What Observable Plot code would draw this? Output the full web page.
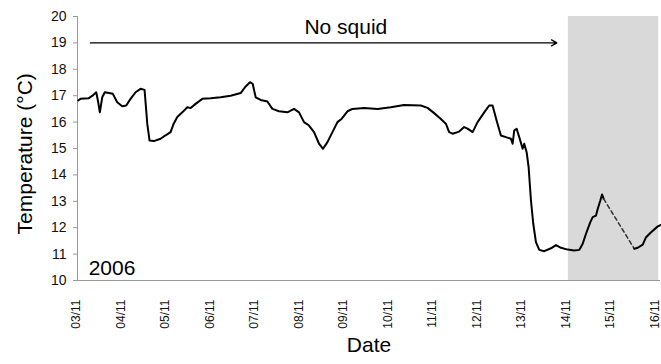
<!DOCTYPE html>
<html><head><meta charset="utf-8">
<script src="https://cdn.jsdelivr.net/npm/d3@7"></script>
<script src="https://cdn.jsdelivr.net/npm/@observablehq/plot@0.6"></script>
<style>body{margin:0;background:#fff;}</style>
</head><body><div id="chart"></div>
<script>
// days since 03/11 (2006) and water temperature (°C)
const days = [0.016,0.067,0.247,0.337,0.421,0.466,0.502,0.556,0.614,0.704,0.794,0.893,1.005,1.095,1.192,1.305,1.417,1.507,1.568,1.619,1.716,1.867,1.979,2.092,2.159,2.242,2.355,2.467,2.542,2.654,2.805,2.991,3.216,3.441,3.666,3.779,3.875,3.936,4.004,4.116,4.267,4.379,4.528,4.717,4.865,4.978,5.09,5.202,5.315,5.427,5.517,5.616,5.729,5.841,5.938,6.066,6.179,6.44,6.741,7.04,7.339,7.715,7.865,8.014,8.165,8.277,8.351,8.428,8.576,8.689,8.765,8.878,8.99,9.139,9.251,9.327,9.417,9.514,9.627,9.739,9.777,9.813,9.867,9.926,10.002,10.038,10.092,10.137,10.189,10.241,10.301,10.376,10.488,10.639,10.751,10.864,11.014,11.163,11.276,11.352,11.426,11.523,11.577,11.651,11.689,11.748,11.786,11.824];
const temps = [16.82,16.88,16.9,17.0,17.13,16.75,16.37,16.94,17.13,17.1,17.07,16.75,16.6,16.63,16.88,17.13,17.26,17.22,15.93,15.3,15.28,15.37,15.5,15.62,15.93,16.19,16.37,16.56,16.53,16.69,16.88,16.9,16.94,17.0,17.1,17.35,17.51,17.45,16.94,16.84,16.78,16.5,16.41,16.37,16.5,16.37,16.0,15.87,15.62,15.18,14.99,15.24,15.62,16.0,16.13,16.41,16.5,16.53,16.5,16.56,16.65,16.63,16.54,16.34,16.12,15.94,15.62,15.56,15.64,15.81,15.75,15.62,16.0,16.37,16.63,16.63,16.06,15.49,15.43,15.37,15.18,15.68,15.75,15.43,14.99,15.18,14.86,14.29,13.03,12.15,11.45,11.16,11.11,11.22,11.34,11.24,11.17,11.14,11.16,11.39,11.77,12.21,12.4,12.46,12.71,13.03,13.26,13.09];
// gap in the record (dashed)
const gapDays = [11.824, 12.512];
const gapTemps = [13.09, 11.2];
// record after the gap
const tailDays = [12.512,12.589,12.701,12.776,12.888,13.039,13.113];
const tailTemps = [11.2,11.24,11.36,11.64,11.83,12.05,12.11];
// squid period (shaded)
const shadeStart = 11.03, shadeEnd = 13.06;
// "No squid" arrow
const arrowFrom = 0.29, arrowTo = 10.77, arrowTemp = 19;
const dateLabels = ["03/11","04/11","05/11","06/11","07/11","08/11","09/11","10/11","11/11","12/11","13/11","14/11","15/11","16/11"];
const yTicks = [10,11,12,13,14,15,16,17,18,19,20];

const main = days.map((d, i) => ({d, t: temps[i]}));
const gap = gapDays.map((d, i) => ({d, t: gapTemps[i]}));
const tail = tailDays.map((d, i) => ({d, t: tailTemps[i]}));
const xTicks = dateLabels.map((_, i) => i);

const chart = Plot.plot({
  width: 661, height: 364,
  marginLeft: 77, marginRight: 1, marginTop: 16, marginBottom: 84,
  x: {domain: [0, 13.1]},
  y: {domain: [10, 20]},
  style: {fontFamily: "'Liberation Sans', Arial, sans-serif", background: "#fff", color: "#111"},
  marks: [
    Plot.rect([{a: shadeStart, b: shadeEnd}], {x1: "a", x2: "b", y1: 10, y2: 20, fill: "#d9d9d9"}),
    Plot.axisY({ticks: yTicks, tickSize: 4, tickPadding: 7, fontSize: 14, label: null, stroke: "#999", fill: "#111"}),
    Plot.axisX({ticks: xTicks, tickFormat: i => dateLabels[i], tickRotate: -90, tickSize: 0, tickPadding: 19, fontSize: 12, label: null, fill: "#111", dx: -1}),
    Plot.ruleX([0], {stroke: "#999"}),
    Plot.ruleY([10], {stroke: "#999"}),
    Plot.line(main, {x: "d", y: "t", stroke: "#000", strokeWidth: 2}),
    Plot.line(gap, {x: "d", y: "t", stroke: "#333", strokeWidth: 1.5, strokeDasharray: "4,3"}),
    Plot.line(tail, {x: "d", y: "t", stroke: "#000", strokeWidth: 2}),
    Plot.arrow([{a: arrowFrom, b: arrowTo, t: arrowTemp}], {x1: "a", x2: "b", y1: "t", y2: "t", stroke: "#000", strokeWidth: 1.3, headLength: 7}),
    Plot.text(["No squid"], {x: 6.03, y: 19.58, text: d => d, fontSize: 21, fill: "#000"}),
    Plot.text(["2006"], {x: 0.25, y: 10.45, text: d => d, fontSize: 21, textAnchor: "start", fill: "#000"}),
    Plot.text(["Temperature (°C)"], {x: -1.17, y: 14.8, rotate: -90, text: d => d, fontSize: 21, fill: "#000"}),
    Plot.text(["Date"], {frameAnchor: "bottom", dy: 71, text: d => d, fontSize: 21, fill: "#000"})
  ]
});
document.getElementById("chart").append(chart);
</script>
</body></html>
